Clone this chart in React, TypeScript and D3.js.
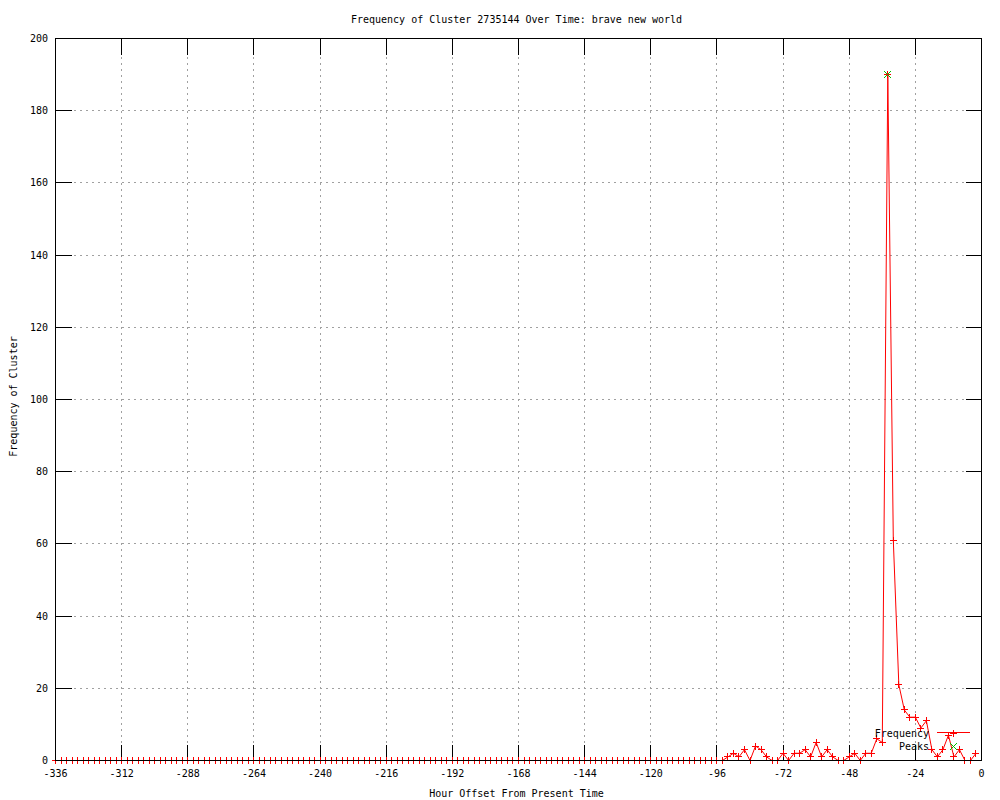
import * as d3 from "d3";

// hour offsets, one sample every 2 hours
const hours = d3.range(-336, 0, 2);

// cluster frequency per sample (-336 .. -2)
const frequency = [
  0, 0, 0, 0, 0, 0, 0, 0, 0, 0,
  0, 0, 0, 0, 0, 0, 0, 0, 0, 0,
  0, 0, 0, 0, 0, 0, 0, 0, 0, 0,
  0, 0, 0, 0, 0, 0, 0, 0, 0, 0,
  0, 0, 0, 0, 0, 0, 0, 0, 0, 0,
  0, 0, 0, 0, 0, 0, 0, 0, 0, 0,
  0, 0, 0, 0, 0, 0, 0, 0, 0, 0,
  0, 0, 0, 0, 0, 0, 0, 0, 0, 0,
  0, 0, 0, 0, 0, 0, 0, 0, 0, 0,
  0, 0, 0, 0, 0, 0, 0, 0, 0, 0,
  0, 0, 0, 0, 0, 0, 0, 0, 0, 0,
  0, 0, 0, 0, 0, 0, 0, 0, 0, 0,
  0, 0,
  1, 2, 1, 3, 0, 4, 3, 1, 0, 0,
  2, 0, 2, 2, 3, 1, 5, 1, 3, 1,
  0, 0, 1, 2, 0, 2, 2, 6, 5, 190,
  61, 21, 14, 12, 12, 9, 11, 3, 1, 3,
  7, 1, 3, 0, 0, 2,
];

const peakHours = [-34];
const peakValues = [190];

const xTicks = [-336, -312, -288, -264, -240, -216, -192, -168, -144, -120, -96, -72, -48, -24, 0];
const yTicks = [0, 20, 40, 60, 80, 100, 120, 140, 160, 180, 200];

const title = "Frequency of Cluster 2735144 Over Time: brave new world";
const xLabel = "Hour Offset From Present Time";
const yLabel = "Frequency of Cluster";

const left = 55.5, right = 981.5, top = 38.5, bottom = 760.5;
const tick = 16;
const font = "'DejaVu Sans Mono', monospace";
const red = "#ff0000";
const green = "#00c000";

const px = (v: number) => Math.round(v - 0.5) + 0.5;

function Plus({ cx, cy, color }: { cx: number; cy: number; color: string }) {
  const s = 3.5;
  const a = px(cx), b = px(cy);
  return <path d={`M${a - s},${b}H${a + s}M${a},${b - s}V${b + s}`} stroke={color} fill="none" />;
}

function Cross({ cx, cy, color }: { cx: number; cy: number; color: string }) {
  const s = 3.5;
  const a = px(cx), b = px(cy);
  return (
    <path d={`M${a - s},${b - s}L${a + s},${b + s}M${a - s},${b + s}L${a + s},${b - s}`} stroke={color} fill="none" />
  );
}

export default function App() {
  const x = d3.scaleLinear().domain([-336, 0]).range([left, right]);
  const y = d3.scaleLinear().domain([0, 200]).range([bottom, top]);

  const line = d3
    .line<number>()
    .x((_, i) => x(hours[i]))
    .y((d) => y(d));

  const midX = (left + right) / 2;
  const midY = (top + bottom) / 2;

  return (
    <svg
      width={1000}
      height={800}
      style={{ position: "absolute", left: 0, top: 0, background: "#fff" }}
      fontFamily={font}
      fontSize={10}
    >
      <rect width={1000} height={800} fill="#fff" />

      {/* grid */}
      <g stroke="#a0a0a0" strokeDasharray="2,4" shapeRendering="crispEdges">
        {xTicks.slice(1, -1).map((t) => (
          <line key={"gx" + t} x1={px(x(t))} x2={px(x(t))} y1={top} y2={bottom} />
        ))}
        {yTicks.slice(1, -1).map((t) => (
          <line key={"gy" + t} x1={left} x2={right} y1={px(y(t))} y2={px(y(t))} />
        ))}
      </g>

      {/* ticks */}
      <g stroke="#000" shapeRendering="crispEdges">
        {xTicks.map((t) => (
          <g key={"tx" + t}>
            <line x1={px(x(t))} x2={px(x(t))} y1={bottom} y2={bottom - tick} />
            <line x1={px(x(t))} x2={px(x(t))} y1={top} y2={top + tick} />
          </g>
        ))}
        {yTicks.map((t) => (
          <g key={"ty" + t}>
            <line x1={left} x2={left + tick} y1={px(y(t))} y2={px(y(t))} />
            <line x1={right} x2={right - tick} y1={px(y(t))} y2={px(y(t))} />
          </g>
        ))}
      </g>

      {/* tick labels */}
      <g fill="#000">
        {xTicks.map((t) => (
          <text key={"lx" + t} x={x(t)} y={773} textAnchor="middle" dominantBaseline="central">
            {t}
          </text>
        ))}
        {yTicks.map((t) => (
          <text key={"ly" + t} x={48} y={y(t)} textAnchor="end" dominantBaseline="central">
            {t}
          </text>
        ))}
      </g>

      {/* frequency series */}
      <path d={line(frequency) ?? ""} fill="none" stroke={red} strokeWidth={1} />
      {frequency.map((v, i) => (
        <Plus key={"p" + i} cx={x(hours[i])} cy={y(v)} color={red} />
      ))}

      {/* peaks */}
      {peakValues.map((v, i) => (
        <Cross key={"k" + i} cx={x(peakHours[i])} cy={y(v)} color={green} />
      ))}

      {/* border */}
      <rect
        x={left}
        y={top}
        width={right - left}
        height={bottom - top}
        fill="none"
        stroke="#000"
        shapeRendering="crispEdges"
      />

      {/* legend */}
      <text x={929} y={733} textAnchor="end" dominantBaseline="central">Frequency</text>
      <line x1={937} x2={970} y1={732.5} y2={732.5} stroke={red} />
      <Plus cx={953.5} cy={733} color={red} />
      <text x={929} y={746} textAnchor="end" dominantBaseline="central">Peaks</text>
      <Cross cx={953.5} cy={746} color={green} />

      {/* titles */}
      <text x={midX - 2} y={19} textAnchor="middle" dominantBaseline="central">{title}</text>
      <text x={midX - 2} y={793} textAnchor="middle" dominantBaseline="central">{xLabel}</text>
      <text
        transform={`translate(13,${midY - 3}) rotate(-90)`}
        textAnchor="middle"
        dominantBaseline="central"
      >
        {yLabel}
      </text>
    </svg>
  );
}
